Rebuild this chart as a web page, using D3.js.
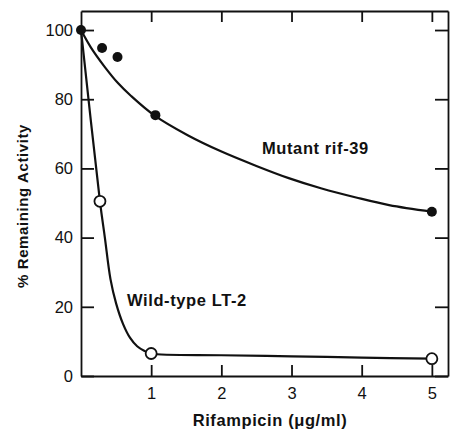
<!DOCTYPE html>
<html>
<head>
<meta charset="utf-8">
<script src="https://cdnjs.cloudflare.com/ajax/libs/d3/7.8.5/d3.min.js"></script>
<style>
  body { margin: 0; background: #fff; }
  svg { display: block; }
  .axis text { font-family: "Liberation Sans", Arial, sans-serif; font-size: 16.5px; fill: #111; }
  .axis path, .axis line { stroke: #111; stroke-width: 1.8; }
  .lbl { font-family: "Liberation Sans", Arial, sans-serif; font-weight: bold; font-size: 16.5px; fill: #111; letter-spacing: 0.6px; }
</style>
</head>
<body>
<svg id="chart" width="450" height="431"></svg>
<script>
// measured points
const mutantX = [0, 0.3, 0.52, 1.06, 5];
const mutantY = [100, 94.8, 92.2, 75.4, 47.5];
const wildX = [0, 0.27, 1, 5];
const wildY = [100, 50.5, 6.5, 5];

// hand-drawn fit curves
const mutantCurveX = [0, 0.14, 0.34, 0.53, 0.71, 1.04, 1.52, 2.01, 2.49, 2.96, 3.43, 3.92, 4.39, 5];
const mutantCurveY = [100, 95, 89.3, 84.6, 81, 75.4, 69.6, 64.8, 60.8, 57.2, 54.2, 51.6, 49.4, 47.5];
const wildCurveX = [0, 0.27, 0.34, 0.42, 0.5, 0.6, 0.7, 0.8, 0.9, 1, 2, 3, 4, 5];
const wildCurveY = [100, 50.5, 40, 28, 21, 15, 11, 8.6, 7.3, 6.5, 6, 5.7, 5.3, 5];

const xTicks = [1, 2, 3, 4, 5];
const yTicks = [0, 20, 40, 60, 80, 100];

const svg = d3.select("#chart");

const x = d3.scaleLinear().domain([0, 5.23]).range([81, 448]);
const y = d3.scaleLinear().domain([0, 105.5]).range([376, 11]);

// frame
svg.append("g").attr("class", "axis")
  .attr("transform", "translate(0," + y(105.5) + ")")
  .call(d3.axisTop(x).tickValues(xTicks).tickSizeInner(-11).tickSizeOuter(0).tickFormat(""));
svg.append("g").attr("class", "axis")
  .attr("transform", "translate(" + x(5.23) + ",0)")
  .call(d3.axisRight(y).tickValues(yTicks).tickSizeInner(-13).tickSizeOuter(0).tickFormat(""));

svg.append("g").attr("class", "axis")
  .attr("transform", "translate(0," + y(0) + ")")
  .call(d3.axisBottom(x).tickValues(xTicks).tickSizeInner(-11).tickSizeOuter(0)
    .tickPadding(11).tickFormat(d3.format("d")));
svg.append("g").attr("class", "axis")
  .attr("transform", "translate(" + x(0) + ",0)")
  .call(d3.axisLeft(y).tickValues(yTicks).tickSizeInner(-13).tickSizeOuter(0)
    .tickPadding(8).tickFormat(d3.format("d")));

svg.selectAll(".axis .domain").attr("stroke-width", 2);

const line = d3.line()
  .x(d => x(d[0]))
  .y(d => y(d[1]))
  .curve(d3.curveCatmullRom.alpha(0.5));

svg.append("path")
  .datum(d3.zip(mutantCurveX, mutantCurveY))
  .attr("d", line)
  .attr("fill", "none").attr("stroke", "#111").attr("stroke-width", 2.2);

svg.append("path")
  .datum(d3.zip(wildCurveX, wildCurveY))
  .attr("d", line)
  .attr("fill", "none").attr("stroke", "#111").attr("stroke-width", 2.2);

svg.selectAll(".wild")
  .data(d3.zip(wildX, wildY).slice(1))
  .join("circle")
  .attr("cx", d => x(d[0])).attr("cy", d => y(d[1]))
  .attr("r", 5.5)
  .attr("fill", "#fff").attr("stroke", "#111").attr("stroke-width", 1.8);

svg.selectAll(".mut")
  .data(d3.zip(mutantX, mutantY))
  .join("circle")
  .attr("cx", d => x(d[0])).attr("cy", d => y(d[1]))
  .attr("r", 5)
  .attr("fill", "#111");

svg.append("text").attr("class", "lbl")
  .attr("x", 262).attr("y", 154).text("Mutant rif-39");
svg.append("text").attr("class", "lbl")
  .attr("x", 127).attr("y", 306).text("Wild-type LT-2");

svg.append("text").attr("class", "lbl")
  .attr("x", 270).attr("y", 426).attr("text-anchor", "middle")
  .text("Rifampicin (\u03bcg/ml)");

svg.append("text").attr("class", "lbl")
  .attr("transform", "translate(28,206) rotate(-90)")
  .attr("text-anchor", "middle")
  .style("font-size", "15px")
  .text("% Remaining Activity");
</script>
</body>
</html>
